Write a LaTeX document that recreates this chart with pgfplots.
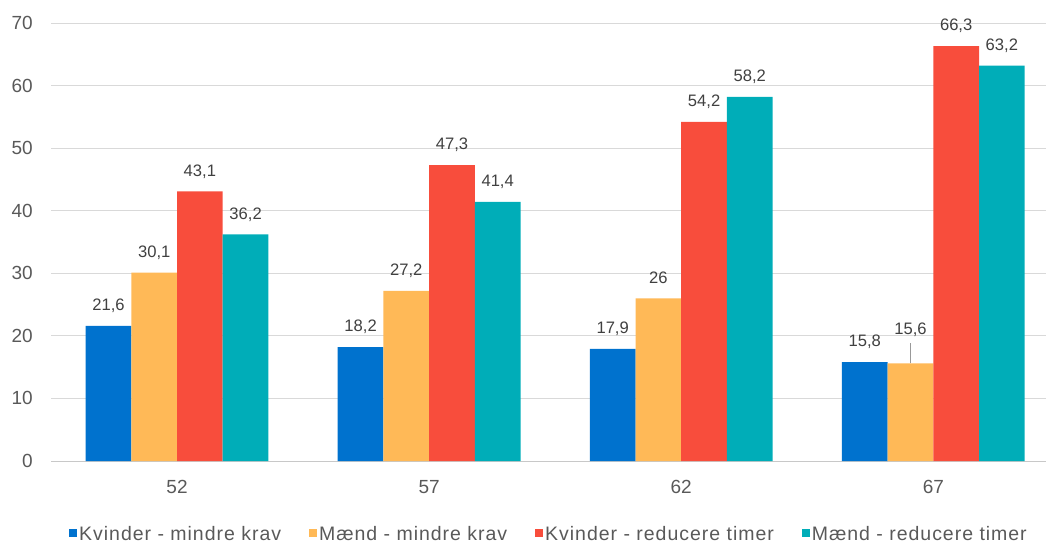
\documentclass[border=0pt]{standalone}
\usepackage{fontspec}
\setmainfont{Liberation Sans}
\usepackage{pgfplots}
\pgfplotsset{compat=1.18}
\definecolor{cblue}{HTML}{0072CE}
\definecolor{corange}{HTML}{FFB957}
\definecolor{cred}{HTML}{F84D3C}
\definecolor{cteal}{HTML}{00ADB8}
\definecolor{gridc}{HTML}{D9D9D9}
\definecolor{axc}{HTML}{C8C8C8}
\definecolor{labc}{HTML}{404040}
\definecolor{tickc}{HTML}{595959}
\begin{document}
\begin{tikzpicture}
\begin{axis}[
  at={(51pt,82pt)}, anchor=south west,
  scale only axis, width=995pt, height=438pt,
  xmin=-0.5, xmax=3.447, ymin=0, ymax=70,
  ybar=0pt, bar width=45.7pt,
  xtick={0,1,2,3}, xticklabels={52,57,62,67},
  ytick={0,10,...,70},
  major tick length=0pt,
  axis lines*=left,
  x axis line style={-, draw=axc, line width=1pt},
  y axis line style={draw=none},
  ymajorgrids, major grid style={draw=gridc, line width=1pt},
  /pgf/number format/.cd, use comma, fixed, precision=1, assume math mode=true, /pgfplots/.cd,
  ticklabel style={font=\fontsize{19}{22}\selectfont, text=tickc},
  xticklabel style={anchor=base, inner sep=0pt, yshift=-32pt},
  yticklabel style={anchor=east, inner sep=0pt, xshift=-18pt},
  nodes near coords={\pgfmathprintnumber{\pgfplotspointmeta}},
  every node near coord/.append style={font=\fontsize{16.6}{19}\selectfont, text=labc, inner sep=0pt, text depth=0pt, anchor=south, yshift=15pt},
  legend columns=4,
  legend style={at={(axis description cs:0.4995,-0.1667)}, anchor=center, draw=none, fill=none,
    font=\fontsize{19.5}{22}\selectfont\addfontfeature{LetterSpace=5}, text=tickc,
    nodes={inner sep=0pt},
    /tikz/every odd column/.append style={column sep=2pt},
    /tikz/every even column/.append style={column sep=28pt}},
  legend image code/.code={\fill[#1] (0pt,-3pt) rectangle (8pt,5pt);},
]
\addplot[fill=cblue, draw=none] coordinates {(0,21.6) (1,18.2) (2,17.9) (3,15.8)};
\addlegendentry{Kvinder - mindre krav}
\addplot[fill=corange, draw=none,
  visualization depends on={value \thisrow{dy}\as\dy},
  every node near coord/.append style={yshift=\dy pt},
  error bars/.cd, y dir=plus, y explicit, error mark=none,
  error bar style={draw=gray!80, line width=1.8pt}]
  table[x=x, y=y, y error=e] {
x y e dy
0 30.1 0 0
1 27.2 0 0
2 26 0 0
3 15.6 3.2 13.4
};
\addlegendentry{Mænd - mindre krav}
\addplot[fill=cred, draw=none] coordinates {(0,43.1) (1,47.3) (2,54.2) (3,66.3)};
\addlegendentry{Kvinder - reducere timer}
\addplot[fill=cteal, draw=none] coordinates {(0,36.2) (1,41.4) (2,58.2) (3,63.2)};
\addlegendentry{Mænd - reducere timer}
\end{axis}
\pgfresetboundingbox
\path[use as bounding box] (0pt,0pt) rectangle (1046pt,543pt);
\end{tikzpicture}
\end{document}
